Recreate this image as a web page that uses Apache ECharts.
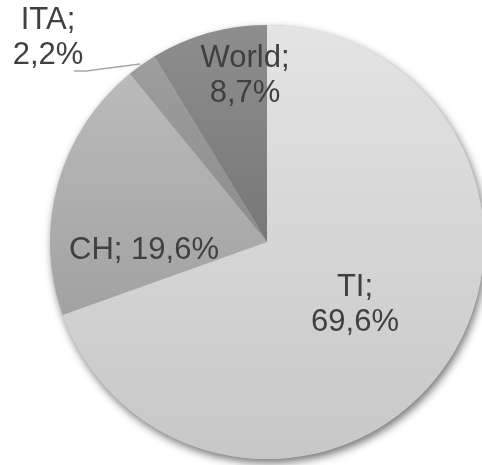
<!DOCTYPE html>
<html>
<head>
<meta charset="utf-8">
<script src="https://cdn.jsdelivr.net/npm/echarts@6/dist/echarts.min.js"></script>
<style>
  html, body { margin: 0; padding: 0; background: #fff; }
  #main { width: 482px; height: 465px; }
</style>
</head>
<body>
<div id="main"></div>
<script>
// data, clockwise from 12 o'clock
var names = ['TI', 'CH', 'ITA', 'World'];
var shares = [69.6, 19.6, 2.2, 8.7];
var twoLines = [true, false, true, true];

// grey gradients (top -> bottom) per slice
var fills = [
  ['#e4e4e4', '#c7c7c7'],
  ['#bbbbbb', '#a2a2a2'],
  ['#9e9e9e', '#8c8c8c'],
  ['#8e8e8e', '#777777']
];

// label spots, Excel "best fit" style
var labelSpots = [
  { x: 355, y: 305 },
  { x: 144, y: 250 },
  { x: 48, y: 38, line: [[140, 64], [86, 71], [74, 71]] },
  { x: 245, y: 76 }
];

var chart = echarts.init(document.getElementById('main'));

var pieData = names.map(function (n, i) {
  return {
    name: n,
    value: shares[i],
    itemStyle: {
      color: new echarts.graphic.LinearGradient(0, 0, 0, 1, [
        { offset: 0, color: fills[i][0] },
        { offset: 1, color: fills[i][1] }
      ])
    },
    label: n === 'ITA' ? { position: 'outside' } : { position: 'inside' },
    labelLine: { show: n === 'ITA' }
  };
});

chart.setOption({
  animation: false,
  series: [
    {
      // shadow disc under the pie
      type: 'pie',
      silent: true,
      z: 1,
      center: [267, 242],
      radius: 217,
      label: { show: false },
      labelLine: { show: false },
      itemStyle: {
        color: '#cccccc',
        shadowBlur: 9,
        shadowOffsetX: 2,
        shadowOffsetY: 4,
        shadowColor: 'rgba(0,0,0,0.55)'
      },
      data: [{ value: 1 }]
    },
    {
      type: 'pie',
      z: 2,
      center: [267, 242],
      radius: 217,
      startAngle: 90,
      clockwise: true,
      itemStyle: { borderWidth: 0 },
      label: {
        show: true,
        color: '#404040',
        fontFamily: 'Liberation Sans, Arial, sans-serif',
        fontSize: 31,
        lineHeight: 35,
        align: 'center',
        formatter: function (p) {
          var v = p.value.toFixed(1).replace('.', ',') + '%';
          return p.name + ';' + (twoLines[p.dataIndex] ? '\n' : ' ') + v;
        }
      },
      labelLine: {
        lineStyle: { color: '#a6a6a6', width: 1.5 }
      },
      labelLayout: function (p) {
        var s = labelSpots[p.dataIndex];
        var out = { x: s.x, y: s.y, align: 'center', verticalAlign: 'middle' };
        if (s.line) out.labelLinePoints = s.line;
        return out;
      },
      data: pieData
    }
  ]
});
</script>
</body>
</html>
